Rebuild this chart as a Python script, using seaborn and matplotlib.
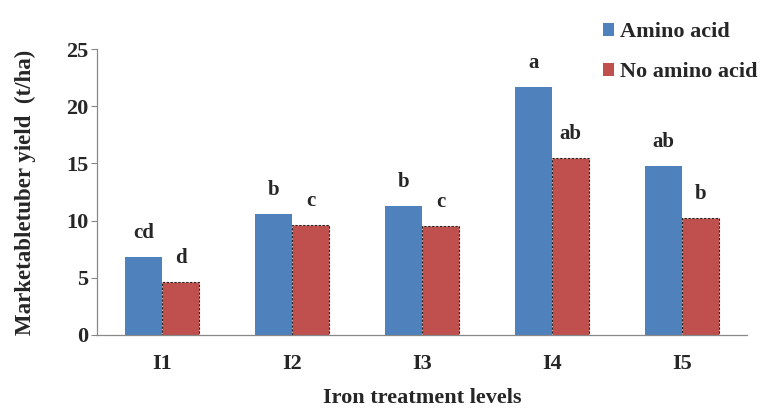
import pandas as pd
import matplotlib
matplotlib.use('Agg')
import matplotlib.pyplot as plt
import seaborn as sns

sns.set_style('white')
plt.rcParams['font.family'] = ['Liberation Serif', 'DejaVu Serif']
plt.rcParams['font.weight'] = 'bold'

levels = ['I1', 'I2', 'I3', 'I4', 'I5']
amino = [6.8, 10.6, 11.25, 21.7, 14.8]
no_amino = [4.6, 9.65, 9.5, 15.5, 10.2]
letters_amino = ['cd', 'b', 'b', 'a', 'ab']
letters_no_amino = ['d', 'c', 'c', 'ab', 'b']
series = ['Amino acid', 'No amino acid']
colors = ['#4F81BD', '#C0504D']

df = pd.DataFrame({
    'level': levels * 2,
    'yield': amino + no_amino,
    'group': [series[0]] * len(levels) + [series[1]] * len(levels),
})

fig = plt.figure(figsize=(7.72, 4.12), dpi=100)
ax = fig.add_axes([0.1256, 0.187, 0.842, 0.694])

sns.barplot(data=df, x='level', y='yield', hue='group', hue_order=series,
            palette=colors, width=0.57, saturation=1, errorbar=None, ax=ax,
            legend=False)

# dashed dark outline on the red bars
for bar in ax.containers[1]:
    bar.set_edgecolor('#222222')
    bar.set_linestyle((0, (2, 1.5)))
    bar.set_linewidth(0.8)
for bar in ax.containers[0]:
    bar.set_linewidth(0)

ax.bar_label(ax.containers[0], labels=letters_amino, padding=10, fontsize=15, fontweight='bold')
ax.bar_label(ax.containers[1], labels=letters_no_amino, padding=10, fontsize=15, fontweight='bold')

ax.set_xlim(-0.5, 4.5)
ax.set_ylim(0, 25)
ax.set_yticks([0, 5, 10, 15, 20, 25])
ax.tick_params(axis='y', direction='out', length=4, width=0.8, color='#888888',
               labelsize=16, pad=2, left=True)
ax.tick_params(axis='x', length=0, labelsize=16, pad=14)
for lab in ax.get_xticklabels() + ax.get_yticklabels():
    lab.set_fontweight('bold')

sns.despine(ax=ax)
for side in ['left', 'bottom']:
    ax.spines[side].set_color('#888888')
    ax.spines[side].set_linewidth(0.9)

ax.set_xlabel('Iron treatment levels', fontsize=16, fontweight='bold', labelpad=10)
ax.set_ylabel('Marketabletuber yield  (t/ha)', fontsize=16.5, fontweight='bold', labelpad=22)

handles = [plt.Rectangle((0, 0), 1, 1, facecolor=c, edgecolor='none') for c in colors]
fig.legend(handles, series, loc='upper left', bbox_to_anchor=(0.755, 0.995),
           frameon=False, prop={'weight': 'bold', 'size': 16},
           handlelength=0.5, handleheight=0.5, handletextpad=0.25, labelspacing=0.9)

fig.savefig('out.png', dpi=100)
